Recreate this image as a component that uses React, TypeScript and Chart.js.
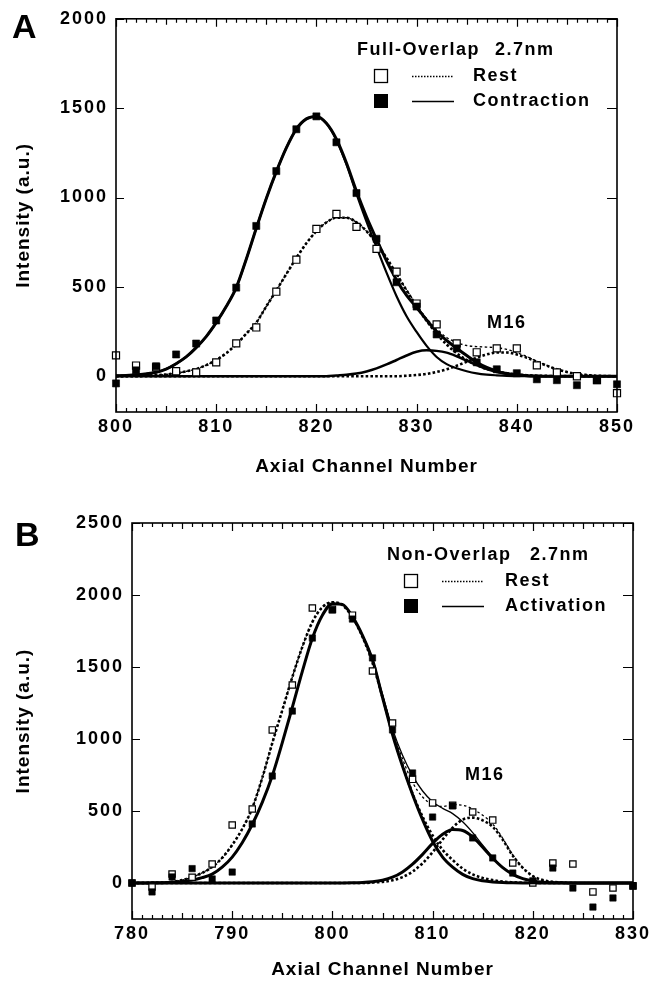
import React, { useEffect, useRef } from "react";
import { Chart, registerables } from "chart.js";

Chart.register(...registerables);

const FONT = '"Liberation Sans", Arial, Helvetica, sans-serif';

// ---------------- Panel A (Full-Overlap) ----------------
const A_X_TICKS = [800, 810, 820, 830, 840, 850];
const A_Y_TICKS = [0, 500, 1000, 1500, 2000];
const A_PT_X = [800, 802, 804, 806, 808, 810, 812, 814, 816, 818, 820, 822, 824, 826, 828, 830, 832, 834, 836, 838, 840, 842, 844, 846, 848, 850];
const A_REST_PTS = [117, 60, 50, 28, 22, 78, 184, 273, 473, 652, 824, 908, 836, 713, 585, 407, 290, 184, 134, 156, 156, 61, 22, 0, -22, -95];
const A_CONTR_PTS = [-40, 33, 56, 122, 183, 312, 496, 841, 1148, 1382, 1454, 1309, 1025, 769, 526, 390, 234, 156, 78, 39, 17, -17, -22, -50, -22, -45];
const A_CURVE_X = [800, 801, 802, 803, 804, 805, 806, 807, 808, 809, 810, 811, 812, 813, 814, 815, 816, 817, 818, 819, 820, 821, 822, 823, 824, 825, 826, 827, 828, 829, 830, 831, 832, 833, 834, 835, 836, 837, 838, 839, 840, 841, 842, 843, 844, 845, 846, 847, 848, 849, 850];
const A_CONTR_TOTAL = [3, 4, 8, 13, 22, 40, 70, 108, 160, 222, 300, 390, 496, 655, 828, 995, 1145, 1278, 1383, 1440, 1453, 1415, 1326, 1193, 1035, 892, 766, 646, 539, 452, 385, 315, 250, 200, 157, 116, 78, 49, 29, 15, 8, 3, 1, 0, 0, 0, 0, 0, 0, 0, 0];
const A_CONTR_MAIN = [3, 4, 8, 13, 22, 40, 70, 108, 160, 222, 300, 390, 496, 655, 828, 995, 1145, 1278, 1383, 1440, 1453, 1415, 1322, 1185, 1020, 865, 722, 580, 448, 336, 248, 170, 108, 68, 45, 28, 16, 9, 5, 2, 1, 0, 0, 0, 0, 0, 0, 0, 0, 0, 0];
const A_CONTR_M16 = [0, 0, 0, 0, 0, 0, 0, 0, 0, 0, 0, 0, 0, 0, 0, 0, 0, 0, 0, 0, 0, 0, 4, 8, 15, 27, 44, 66, 91, 116, 137, 145, 142, 132, 112, 88, 62, 40, 24, 13, 7, 3, 1, 0, 0, 0, 0, 0, 0, 0, 0];
const A_REST_TOTAL = [1, 1, 2, 3, 6, 10, 17, 27, 41, 62, 91, 129, 178, 238, 300, 391, 480, 572, 662, 744, 812, 861, 887, 887, 861, 812, 744, 662, 572, 483, 398, 323, 262, 217, 188, 172, 166, 163, 160, 150, 132, 110, 84, 61, 40, 25, 13, 7, 3, 1, 0];
const A_REST_MAIN = [1, 1, 2, 3, 6, 10, 17, 27, 41, 62, 91, 129, 178, 238, 300, 391, 480, 572, 662, 744, 812, 861, 887, 887, 861, 812, 744, 662, 572, 480, 391, 310, 238, 178, 129, 91, 62, 41, 27, 17, 10, 6, 3, 2, 1, 1, 0, 0, 0, 0, 0];
const A_REST_M16 = [0, 0, 0, 0, 0, 0, 0, 0, 0, 0, 0, 0, 0, 0, 0, 0, 0, 0, 0, 0, 0, 0, 0, 0, 0, 0, 0, 0, 0, 3, 7, 13, 24, 39, 59, 81, 104, 122, 133, 133, 122, 104, 81, 59, 39, 24, 13, 7, 3, 1, 0];

// ---------------- Panel B (Non-Overlap) ----------------
const B_X_TICKS = [780, 790, 800, 810, 820, 830];
const B_Y_TICKS = [0, 500, 1000, 1500, 2000, 2500];
const B_PT_X = [780, 782, 784, 786, 788, 790, 792, 794, 796, 798, 800, 802, 804, 806, 808, 810, 812, 814, 816, 818, 820, 822, 824, 826, 828, 830];
const B_REST_PTS = [0, -28, 62, 40, 132, 403, 514, 1063, 1375, 1910, 1900, 1860, 1472, 1111, 720, 556, 540, 493, 437, 139, 0, 139, 132, -62, -35, -20];
const B_ACT_PTS = [0, -62, 42, 100, 28, 76, 410, 743, 1194, 1701, 1896, 1833, 1563, 1063, 764, 458, 535, 313, 174, 69, 15, 104, -35, -167, -104, -21];
const B_CURVE_X = [780, 781, 782, 783, 784, 785, 786, 787, 788, 789, 790, 791, 792, 793, 794, 795, 796, 797, 798, 799, 800, 801, 802, 803, 804, 805, 806, 807, 808, 809, 810, 811, 812, 813, 814, 815, 816, 817, 818, 819, 820, 821, 822, 823, 824, 825, 826, 827, 828, 829, 830];
const B_ACT_TOTAL = [0, 0, 1, 2, 5, 11, 20, 37, 62, 110, 180, 280, 406, 560, 745, 975, 1220, 1470, 1700, 1860, 1940, 1935, 1851, 1723, 1558, 1309, 1070, 887, 746, 639, 565, 518, 482, 425, 350, 263, 179, 110, 61, 30, 14, 5, 2, 1, 0, 0, 0, 0, 0, 0, 0];
const B_ACT_MAIN = [0, 0, 1, 2, 5, 11, 20, 37, 62, 110, 180, 280, 406, 560, 745, 975, 1220, 1470, 1700, 1860, 1940, 1935, 1850, 1720, 1550, 1290, 1030, 810, 615, 440, 290, 180, 110, 60, 30, 15, 7, 3, 1, 0, 0, 0, 0, 0, 0, 0, 0, 0, 0, 0, 0];
const B_ACT_M16 = [0, 0, 0, 0, 0, 0, 0, 0, 0, 0, 0, 0, 0, 0, 0, 0, 0, 0, 0, 0, 0, 0, 1, 3, 8, 19, 40, 77, 131, 199, 275, 338, 372, 365, 320, 248, 172, 107, 60, 30, 14, 5, 2, 1, 0, 0, 0, 0, 0, 0, 0];
const B_REST_TOTAL = [0, 0, 1, 3, 8, 20, 42, 70, 111, 175, 264, 375, 520, 730, 972, 1200, 1430, 1640, 1812, 1915, 1950, 1930, 1845, 1710, 1533, 1298, 1059, 861, 699, 597, 544, 532, 544, 540, 514, 470, 410, 310, 195, 107, 49, 20, 8, 3, 1, 0, 0, 0, 0, 0, 0];
const B_REST_MAIN = [0, 0, 1, 3, 8, 20, 42, 70, 111, 175, 264, 375, 520, 730, 972, 1200, 1430, 1640, 1812, 1915, 1950, 1930, 1845, 1710, 1530, 1290, 1040, 820, 620, 460, 330, 230, 160, 100, 60, 35, 20, 10, 5, 2, 1, 0, 0, 0, 0, 0, 0, 0, 0, 0, 0];
const B_REST_M16 = [0, 0, 0, 0, 0, 0, 0, 0, 0, 0, 0, 0, 0, 0, 0, 0, 0, 0, 0, 0, 0, 0, 0, 0, 3, 8, 19, 41, 79, 137, 214, 302, 384, 440, 454, 435, 390, 300, 190, 105, 48, 20, 8, 3, 1, 0, 0, 0, 0, 0, 0];

const W = 654;
const H = 493;

type PanelCfg = {
  letter: string;
  letterPos: [number, number];
  plot: { left: number; right: number; top: number; bottom: number };
  xMin: number; xMax: number; yMin: number; yMax: number;
  xTicks: number[]; yTicks: number[];
  ptX: number[]; restPts: number[]; actPts: number[];
  curveX: number[];
  actTotal: number[]; actMain: number[]; actM16: number[];
  restTotal: number[]; restMain: number[]; restM16: number[];
  ptR: number;
  title: string; titleX: number; sizeX: number; titleY: number;
  boxX: number; lineX0: number; lineX1: number; textX: number;
  row1Y: number; row2Y: number; actLabel: string;
  m16: [number, number];
  xTitleY: number; yTitleX: number;
  actMainW: number; actTotalW: number; actM16W: number;
  restMainW: number; restTotalW: number; restM16W: number;
};

const PANEL_A: PanelCfg = {
  letter: "A", letterPos: [12, 38],
  plot: { left: 116, right: 617, top: 17, bottom: 412 },
  xMin: 800, xMax: 850, yMin: -200, yMax: 2000,
  xTicks: A_X_TICKS, yTicks: A_Y_TICKS,
  ptX: A_PT_X, restPts: A_REST_PTS, actPts: A_CONTR_PTS,
  curveX: A_CURVE_X,
  actTotal: A_CONTR_TOTAL, actMain: A_CONTR_MAIN, actM16: A_CONTR_M16,
  restTotal: A_REST_TOTAL, restMain: A_REST_MAIN, restM16: A_REST_M16,
  ptR: 5,
  title: "Full-Overlap", titleX: 357, sizeX: 495, titleY: 50,
  boxX: 374, lineX0: 412, lineX1: 454, textX: 473,
  row1Y: 76, row2Y: 101, actLabel: "Contraction",
  m16: [487, 323],
  xTitleY: 467, yTitleX: 24,
  actMainW: 2.2, actTotalW: 3, actM16W: 2.5,
  restMainW: 2.6, restTotalW: 1.4, restM16W: 2.6,
};

const PANEL_B: PanelCfg = {
  letter: "B", letterPos: [15, 53],
  plot: { left: 132, right: 633, top: 30, bottom: 426 },
  xMin: 780, xMax: 830, yMin: -250, yMax: 2500,
  xTicks: B_X_TICKS, yTicks: B_Y_TICKS,
  ptX: B_PT_X, restPts: B_REST_PTS, actPts: B_ACT_PTS,
  curveX: B_CURVE_X,
  actTotal: B_ACT_TOTAL, actMain: B_ACT_MAIN, actM16: B_ACT_M16,
  restTotal: B_REST_TOTAL, restMain: B_REST_MAIN, restM16: B_REST_M16,
  ptR: 4.5,
  title: "Non-Overlap", titleX: 387, sizeX: 530, titleY: 62,
  boxX: 404, lineX0: 442, lineX1: 484, textX: 505,
  row1Y: 88, row2Y: 113, actLabel: "Activation",
  m16: [465, 282],
  xTitleY: 477, yTitleX: 24,
  actMainW: 3, actTotalW: 1.3, actM16W: 3,
  restMainW: 2.6, restTotalW: 1.3, restM16W: 2.6,
};

const pts = (xs: number[], ys: number[]) => xs.map((x, i) => ({ x, y: ys[i] }));

function curve(xs: number[], ys: number[], width: number, dash: number[], order: number) {
  return {
    type: "line",
    data: pts(xs, ys),
    borderColor: "#000",
    borderWidth: width,
    borderDash: dash,
    borderCapStyle: "butt",
    pointRadius: 0,
    pointHoverRadius: 0,
    fill: false,
    showLine: true,
    cubicInterpolationMode: "monotone",
    order,
  };
}

function markers(xs: number[], ys: number[], filled: boolean, r: number, order: number) {
  return {
    type: "line",
    data: pts(xs, ys),
    showLine: false,
    pointStyle: "rect",
    pointRadius: r,
    pointHoverRadius: r,
    pointBackgroundColor: filled ? "#000" : "#fff",
    pointBorderColor: "#000",
    pointBorderWidth: filled ? 0.6 : 1.2,
    clip: false,
    order,
  };
}

function decoPlugin(p: PanelCfg) {
  return {
    id: "panelDeco",
    beforeDraw(chart: any) {
      chart.ctx.letterSpacing = "2px";
    },
    afterDraw(chart: any) {
      const ctx = chart.ctx;
      const a = chart.chartArea;
      const xs = chart.scales.x;
      const ys = chart.scales.y;
      ctx.save();
      ctx.letterSpacing = "0px";
      ctx.setLineDash([]);
      ctx.strokeStyle = "#000";
      ctx.lineWidth = 1.6;
      ctx.strokeRect(a.left, a.top, a.right - a.left, a.bottom - a.top);
      ctx.lineWidth = 1.2;
      ctx.beginPath();
      for (let v = p.xMin; v <= p.xMax; v += 1) {
        const px = Math.round(xs.getPixelForValue(v)) + 0.5;
        const len = v % 10 === 0 ? 8 : v % 5 === 0 ? 6 : 4;
        ctx.moveTo(px, a.bottom);
        ctx.lineTo(px, a.bottom - len);
        ctx.moveTo(px, a.top);
        ctx.lineTo(px, a.top + len);
      }
      for (const v of p.yTicks) {
        const py = Math.round(ys.getPixelForValue(v)) + 0.5;
        ctx.moveTo(a.left, py);
        ctx.lineTo(a.left + 8, py);
        ctx.moveTo(a.right, py);
        ctx.lineTo(a.right - 10, py);
      }
      ctx.stroke();

      ctx.fillStyle = "#000";
      // panel letter
      ctx.font = `bold 34px ${FONT}`;
      ctx.textAlign = "left";
      ctx.textBaseline = "alphabetic";
      ctx.fillText(p.letter, p.letterPos[0], p.letterPos[1]);

      // axis titles
      ctx.letterSpacing = "1px";
      ctx.font = `bold 19px ${FONT}`;
      ctx.textAlign = "center";
      ctx.textBaseline = "middle";
      ctx.fillText("Axial Channel Number", (a.left + a.right) / 2, p.xTitleY);
      ctx.save();
      ctx.translate(p.yTitleX, (a.top + a.bottom) / 2);
      ctx.rotate(-Math.PI / 2);
      ctx.fillText("Intensity (a.u.)", 0, 0);
      ctx.restore();

      // legend
      ctx.letterSpacing = "1.5px";
      ctx.font = `bold 18px ${FONT}`;
      ctx.textAlign = "left";
      ctx.textBaseline = "middle";
      ctx.fillText(p.title, p.titleX, p.titleY);
      ctx.fillText("2.7nm", p.sizeX, p.titleY);
      ctx.fillText("Rest", p.textX, p.row1Y);
      ctx.fillText(p.actLabel, p.textX, p.row2Y);
      ctx.fillText("M16", p.m16[0], p.m16[1]);

      ctx.lineWidth = 1.3;
      ctx.fillStyle = "#fff";
      ctx.fillRect(p.boxX + 0.5, p.row1Y - 6.5, 13, 13);
      ctx.strokeRect(p.boxX + 0.5, p.row1Y - 6.5, 13, 13);
      ctx.fillStyle = "#000";
      ctx.fillRect(p.boxX, p.row2Y - 7, 14, 14);

      ctx.lineWidth = 1.5;
      ctx.setLineDash([1.5, 1.5]);
      ctx.beginPath();
      ctx.moveTo(p.lineX0, p.row1Y + 0.5);
      ctx.lineTo(p.lineX1, p.row1Y + 0.5);
      ctx.stroke();
      ctx.setLineDash([]);
      ctx.beginPath();
      ctx.moveTo(p.lineX0, p.row2Y + 0.5);
      ctx.lineTo(p.lineX1, p.row2Y + 0.5);
      ctx.stroke();
      ctx.restore();
    },
  };
}

function buildConfig(p: PanelCfg): any {
  const tickFont = { family: FONT, size: 18, weight: "bold" };
  return {
    type: "line",
    data: {
      datasets: [
        markers(p.ptX, p.actPts, true, p.ptR, 0),
        markers(p.ptX, p.restPts, false, p.ptR, 1),
        curve(p.curveX, p.actTotal, p.actTotalW, [], 2),
        curve(p.curveX, p.actMain, p.actMainW, [], 3),
        curve(p.curveX, p.actM16, p.actM16W, [], 4),
        curve(p.curveX, p.restTotal, p.restTotalW, [2.5, 2.5], 5),
        curve(p.curveX, p.restMain, p.restMainW, [2.6, 2.2], 6),
        curve(p.curveX, p.restM16, p.restM16W, [2.6, 2.2], 7),
      ],
    },
    options: {
      responsive: false,
      maintainAspectRatio: false,
      animation: false,
      events: [],
      devicePixelRatio: 1,
      layout: {
        padding: { left: 0, top: p.plot.top, right: W - p.plot.right, bottom: 0 },
      },
      plugins: {
        legend: { display: false },
        tooltip: { enabled: false },
      },
      scales: {
        x: {
          type: "linear",
          position: "bottom",
          min: p.xMin,
          max: p.xMax,
          afterBuildTicks: (s: any) => {
            s.ticks = p.xTicks.map((v) => ({ value: v }));
          },
          ticks: {
            autoSkip: false,
            maxRotation: 0,
            padding: 4,
            color: "#000",
            font: tickFont,
            callback: (v: any) => String(v),
          },
          grid: { display: false, drawTicks: false },
          border: { display: false },
          afterFit: (s: any) => {
            s.height = H - p.plot.bottom;
          },
        },
        y: {
          type: "linear",
          position: "left",
          min: p.yMin,
          max: p.yMax,
          afterBuildTicks: (s: any) => {
            s.ticks = p.yTicks.map((v) => ({ value: v }));
          },
          ticks: {
            padding: 8,
            color: "#000",
            font: tickFont,
            callback: (v: any) => String(v),
          },
          grid: { display: false, drawTicks: false },
          border: { display: false },
          afterFit: (s: any) => {
            s.width = p.plot.left;
          },
        },
      },
    },
    plugins: [decoPlugin(p)],
  };
}

function Panel({ cfg, top }: { cfg: PanelCfg; top: number }) {
  const ref = useRef<HTMLCanvasElement>(null);
  useEffect(() => {
    const chart = new Chart(ref.current as HTMLCanvasElement, buildConfig(cfg));
    return () => chart.destroy();
  }, [cfg]);
  return (
    <canvas
      ref={ref}
      width={W}
      height={H}
      style={{ position: "absolute", left: 0, top, width: W, height: H, display: "block" }}
    />
  );
}

export default function App() {
  return (
    <div style={{ position: "absolute", left: 0, top: 0, width: W, height: 2 * H, background: "#fff" }}>
      <Panel cfg={PANEL_A} top={0} />
      <Panel cfg={PANEL_B} top={H} />
    </div>
  );
}
